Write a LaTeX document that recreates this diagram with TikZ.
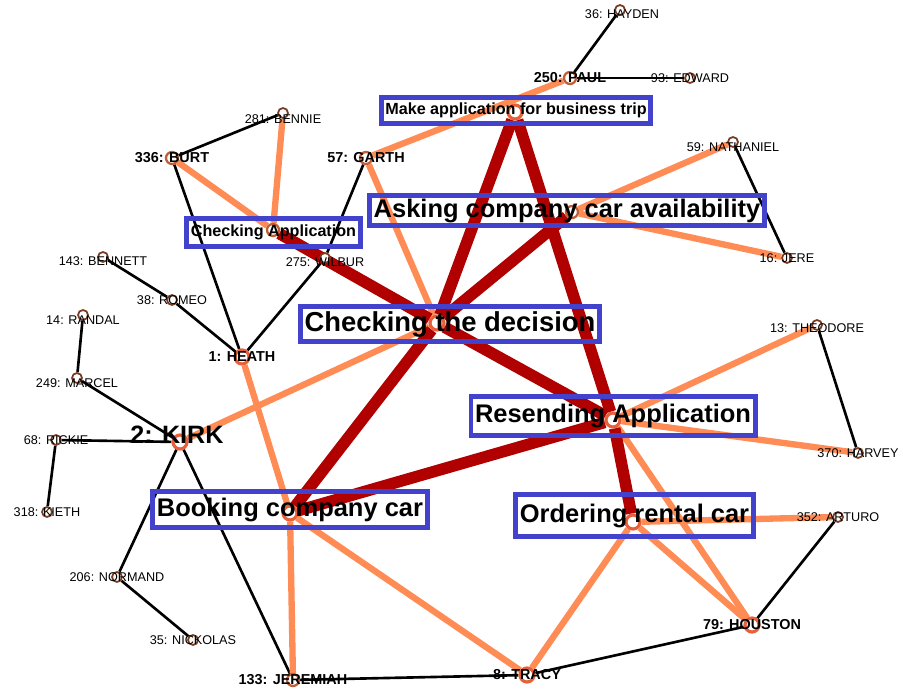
\documentclass[tikz,border=0pt]{standalone}
\usepackage{fontspec}
\setmainfont{Liberation Sans}
\usepackage{tikz}
\usetikzlibrary{backgrounds}
\definecolor{boxblue}{RGB}{66,66,204}
\definecolor{lightedge}{RGB}{255,140,85}
\definecolor{heavyedge}{RGB}{176,0,0}
\definecolor{ringdark}{RGB}{120,60,35}
\definecolor{ringmid}{RGB}{190,95,55}
\definecolor{ringhub}{RGB}{232,96,58}
\tikzset{
	vx/.style={circle, draw=ringdark, fill=white, line width=1pt, inner sep=0pt, minimum size=0.2cm},
	vmid/.style={vx, draw=ringmid, line width=1.3pt, minimum size=0.24cm},
	vhub/.style={vx, draw=ringhub, line width=1.8pt, minimum size=0.28cm},
	who/.style={font=\fontsize{7.2}{9}\selectfont},
	whob/.style={font=\fontsize{8.2}{10}\selectfont\bfseries},
	procsmall/.style={draw=boxblue, line width=2.8pt, inner xsep=2.3pt, inner ysep=0pt, font=\fontsize{9.2}{11}\selectfont\bfseries},
	procbig/.style={procsmall, font=\fontsize{14.5}{17}\selectfont\bfseries},
	tie/.style={black, line width=1.5pt},
	link/.style={lightedge, line width=3.6pt},
	flow/.style={heavyedge, line width=6.6pt}
}

\begin{document}
\begin{tikzpicture}[x=0.02cm, y=-0.02cm]
	\useasboundingbox (0,0) rectangle (903,692);
	% people
	\node (hayden) 		[vx, label={[who, xshift=0.04cm, yshift=-0.08cm]center:{36: HAYDEN}}] 			at (620,10) {};
	\node (paul) 			[vmid, label={[whob]center:{250: PAUL}}] 												at (570,78) {};
	\node (edward) 		[vx, label={[who]center:{93: EDWARD}}] 													at (690,78) {};
	\node (nath) 			[vx, label={[who, yshift=-0.1cm]center:{59: NATHANIEL}}] 				at (733,142) {};
	\node (jere) 			[vx, label={[who]center:{16: JERE}}] 														at (787,258) {};
	\node (bennie) 		[vx, label={[who, yshift=-0.12cm]center:{281: BENNIE}}] 				at (283,113) {};
	\node (burt) 			[vmid, label={[whob]center:{336: BURT}}] 												at (172,158) {};
	\node (garth) 		[vmid, label={[whob]center:{57: GARTH}}] 												at (366,158) {};
	\node (wilbur) 		[vx, label={[who, yshift=-0.08cm]center:{275: WILBUR}}] 				at (325,258) {};
	\node (bennett) 	[vx, label={[who, yshift=-0.08cm]center:{143: BENNETT}}] 				at (103,257) {};
	\node (romeo) 		[vx, label={[who]center:{38: ROMEO}}] 													at (172,300) {};
	\node (randal) 		[vx, label={[who, yshift=-0.1cm]center:{14: RANDAL}}] 					at (83,315) {};
	\node (heath) 		[vhub, label={[whob]center:{1: HEATH}}] 												at (242,357) {};
	\node (marcel) 		[vx, label={[who, yshift=-0.1cm]center:{249: MARCEL}}] 					at (77,378) {};
	\node (kirk) 			[vhub, label={[font=\fontsize{14.3}{17}\selectfont\bfseries, xshift=-0.06cm, yshift=0.14cm]center:{2: KIRK}}] at (180,442) {};
	\node (rickie) 		[vx, label={[who]center:{68: RICKIE}}] 													at (56,440) {};
	\node (kieth) 		[vx, label={[who]center:{318: KIETH}}] 													at (47,512) {};
	\node (normand) 	[vx, label={[who]center:{206: NORMAND}}] 												at (117,577) {};
	\node (nick) 			[vx, label={[who]center:{35: NICKOLAS}}] 												at (193,640) {};
	\node (jeremiah) 	[vmid, label={[whob]center:{133: JEREMIAH}}] 										at (293,680) {};
	\node (tracy) 		[vhub, label={[whob]center:{8: TRACY}}] 												at (527,675) {};
	\node (houston) 	[vhub, label={[whob]center:{79: HOUSTON}}] 											at (752,625) {};
	\node (arturo) 		[vx, label={[who]center:{352: ARTURO}}] 												at (838,517) {};
	\node (harvey) 		[vx, label={[who]center:{370: HARVEY}}] 												at (858,453) {};
	\node (theodore) 	[vx, label={[who, yshift=-0.06cm]center:{13: THEODORE}}] 				at (817,325) {};
	% activities
	\node (mkapp) 		[vhub] 	at (515,112) {};
	\node (chkapp) 		[vmid] 	at (273,230) {};
	\node (ask) 			[vmid] 	at (572,212) {};
	\node (dec) 			[vhub] 	at (437,323) {};
	\node (resend) 		[vhub] 	at (613,420) {};
	\node (book) 			[vhub] 	at (290,513) {};
	\node (order) 		[vhub] 	at (633,522) {};
	\node (mkappbox) 	[procsmall, minimum height=0.52cm] 	at (516,110.5) 	{Make application for business trip};
	\node (chkappbox) [procsmall, minimum height=0.56cm] 	at (273.5,232.5) {Checking Application};
	\node (askbox) 		[procbig, minimum height=0.6cm] 		at (567,210.5) 	{Asking company car availability};
	\node (decbox) 		[procbig, font=\fontsize{15.6}{18}\selectfont\bfseries, minimum height=0.7cm] at (450,324) {Checking the decision};
	\node (resendbox) [procbig, minimum height=0.78cm] 		at (613,416) 		{Resending Application};
	\node (bookbox) 	[procbig, minimum height=0.72cm] 		at (290,509.5) 	{Booking company car};
	\node (orderbox) 	[procbig, minimum height=0.84cm] 		at (634.5,515.5) {Ordering rental car};
	%
	\begin{pgfonlayer}{background}
		\draw[tie] 		(hayden) to (paul);
		\draw[tie] 		(paul) to (edward);
		\draw[tie] 		(nath) to (jere);
		\draw[tie] 		(bennie) to (burt);
		\draw[tie] 		(burt) to (heath);
		\draw[tie] 		(garth) to (wilbur);
		\draw[tie] 		(wilbur) to (heath);
		\draw[tie] 		(bennett) to (romeo);
		\draw[tie] 		(romeo) to (heath);
		\draw[tie] 		(randal) to (marcel);
		\draw[tie] 		(marcel) to (kirk);
		\draw[tie] 		(rickie) to (kirk);
		\draw[tie] 		(rickie) to (kieth);
		\draw[tie] 		(kirk) to (normand);
		\draw[tie] 		(normand) to (nick);
		\draw[tie] 		(kirk) to (jeremiah);
		\draw[tie] 		(jeremiah) to (tracy);
		\draw[tie] 		(tracy) to (houston);
		\draw[tie] 		(houston) to (arturo);
		\draw[tie] 		(theodore) to (harvey);
		%
		\draw[link] 	(paul) to (garth);
		\draw[link] 	(chkapp) to (burt);
		\draw[link] 	(chkapp) to (bennie);
		\draw[link] 	(garth) to (dec);
		\draw[link] 	(nath) to (ask);
		\draw[link] 	(ask) to (jere);
		\draw[link] 	(dec) to (kirk);
		\draw[link] 	(heath) to (book);
		\draw[link] 	(book) to (jeremiah);
		\draw[link] 	(book) to (tracy);
		\draw[link] 	(tracy) to (order);
		\draw[link] 	(order) to (houston);
		\draw[link] 	(resend) to (houston);
		\draw[link] 	(resend) to (theodore);
		\draw[link] 	(resend) to (harvey);
		\draw[link] 	(order) to (arturo);
		%
		\draw[flow] 	(chkapp) to (dec);
		\draw[flow] 	(mkapp) to (dec);
		\draw[flow] 	(mkapp) to (resend);
		\draw[flow] 	(ask) to (dec);
		\draw[flow] 	(dec) to (book);
		\draw[flow] 	(dec) to (resend);
		\draw[flow] 	(book) to (resend);
		\draw[flow] 	(resend) to (order);
	\end{pgfonlayer}
\end{tikzpicture}
\end{document}
